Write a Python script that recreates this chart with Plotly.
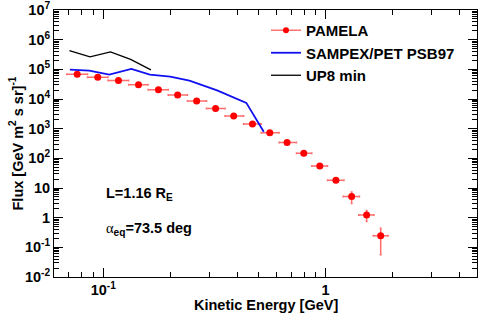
import numpy as np
import plotly.graph_objects as go

# PAMELA data
pam_E = [0.0763, 0.0944, 0.117, 0.144, 0.177, 0.216, 0.263, 0.320, 0.386, 0.469,
         0.561, 0.671, 0.798, 0.942, 1.113, 1.31, 1.53, 1.77]
pam_F = [6.8e4, 5.4e4, 4.2e4, 3.0e4, 2.06e4, 1.36e4, 8.5e3, 4.75e3, 2.68e3, 1.43e3,
         726, 342, 148, 54.7, 18.3, 5.2, 1.24, 0.246]
pam_Elo = [0.0685, 0.0849, 0.105, 0.130, 0.159, 0.196, 0.239, 0.291, 0.353, 0.428,
           0.513, 0.618, 0.740, 0.867, 1.02, 1.20, 1.41, 1.64]
pam_Ehi = [0.0849, 0.105, 0.130, 0.159, 0.196, 0.239, 0.291, 0.353, 0.428, 0.513,
           0.618, 0.740, 0.867, 1.02, 1.21, 1.42, 1.65, 1.91]
pam_Ferr = [2e3, 1.6e3, 1.2e3, 0.9e3, 0.6e3, 0.4e3, 0.25e3, 0.14e3, 80, 45,
            22, 11, 5, 2.2, 1.5, 2.2, 0.5, 0.19]

# SAMPEX/PET PSB97
sam_E = [0.0707, 0.0865, 0.1064, 0.1337, 0.162, 0.200, 0.244, 0.325, 0.440, 0.527]
sam_F = [9.84e4, 9.1e4, 6.65e4, 1.04e5, 6.65e4, 5.69e4, 4.16e4, 1.95e4, 7.4e3, 785]

# UP8 min
up8_E = [0.0704, 0.0871, 0.1077, 0.1327, 0.1637]
up8_F = [4.26e5, 2.62e5, 3.87e5, 2.15e5, 9.6e4]

y_tickvals = [1e7, 1e6, 1e5, 1e4, 1e3, 1e2, 10, 1, 0.1, 0.01]
y_ticktext = ["10<sup>7</sup>", "10<sup>6</sup>", "10<sup>5</sup>", "10<sup>4</sup>",
              "10<sup>3</sup>", "10<sup>2</sup>", "10", "1", "10<sup>-1</sup>", "10<sup>-2</sup>"]
x_tickvals = [0.1, 1]
x_ticktext = ["10<sup>-1</sup>", "1"]

FONT = "Liberation Sans"
FS = 14.5

err_plus_x = [h - e for h, e in zip(pam_Ehi, pam_E)]
err_minus_x = [e - l for e, l in zip(pam_E, pam_Elo)]

fig = go.Figure()
errcol = "rgba(255,30,30,0.65)"
fig.add_trace(go.Scatter(
    x=pam_E, y=pam_F, mode="markers", showlegend=False,
    marker=dict(color="#ff0000", size=7),
    error_x=dict(type="data", symmetric=False, array=err_plus_x, arrayminus=err_minus_x,
                 color=errcol, thickness=1.5, width=1),
    error_y=dict(type="data", array=pam_Ferr, color=errcol, thickness=1.5, width=1),
))
# legend entry for PAMELA (line + marker)
fig.add_trace(go.Scatter(x=[None], y=[None], mode="lines+markers", name="PAMELA",
                         line=dict(color="rgba(255,80,80,0.8)", width=1.5),
                         marker=dict(color="#ff0000", size=6)))
fig.add_trace(go.Scatter(x=sam_E, y=sam_F, mode="lines", name="SAMPEX/PET PSB97",
                         line=dict(color="#1010f0", width=1.8)))
fig.add_trace(go.Scatter(x=up8_E, y=up8_F, mode="lines", name="UP8 min",
                         line=dict(color="black", width=1.3)))

def minor_vals(lo, hi):
    v = []
    for e in range(lo, hi):
        for d in range(2, 10):
            v.append(d * 10.0 ** e)
    return v

axcommon = dict(showline=True, linecolor="black", linewidth=1, mirror="allticks",
                ticks="inside", tickcolor="black", showgrid=False, zeroline=False,
                automargin=False, ticklabeloverflow="allow",
                tickfont=dict(family=FONT, size=FS, color="black", weight="bold"))

fig.update_xaxes(type="log", range=[np.log10(0.06), np.log10(4.8)],
                 tickmode="array", tickvals=x_tickvals, ticktext=x_ticktext,
                 ticklen=9, ticklabelstandoff=0,
                 minor=dict(ticks="inside", ticklen=5, tickcolor="black", showgrid=False,
                            tickmode="array", tickvals=minor_vals(-2, 1)),
                 **axcommon)
fig.update_yaxes(type="log", range=[-2, 7],
                 tickmode="array", tickvals=y_tickvals, ticktext=y_ticktext,
                 ticklen=9,
                 minor=dict(ticks="inside", ticklen=5, tickcolor="black", showgrid=False,
                            tickmode="array", tickvals=minor_vals(-2, 7)),
                 **axcommon)

fig.add_annotation(text="<b>Kinetic Energy [GeV]</b>", xref="paper", yref="paper",
                   x=0.5, y=(277 - 305) / 267, showarrow=False, yanchor="middle",
                   font=dict(family=FONT, size=FS, color="black"))
fig.add_annotation(text="<b>Flux [GeV m<sup>2</sup> s sr]<sup>-1</sup></b>", xref="paper", yref="paper",
                   x=(16 - 54) / 423, y=0.5, showarrow=False, textangle=-90, xanchor="center",
                   font=dict(family=FONT, size=FS, color="black"))
fig.add_annotation(text="<b>L=1.16 R<sub>E</sub></b>", xref="paper", yref="paper",
                   x=(104 - 54) / 423, y=(277 - 194) / 267, xanchor="left", yanchor="middle",
                   showarrow=False, font=dict(family=FONT, size=FS, color="black"))
fig.add_annotation(text="<span style='font-family:Liberation Serif;font-weight:normal'>α</span><b><sub>eq</sub>=73.5 deg</b>",
                   xref="paper", yref="paper",
                   x=(104 - 54) / 423, y=(277 - 229) / 267, xanchor="left", yanchor="middle",
                   showarrow=False, font=dict(family=FONT, size=FS, color="black"))

fig.update_layout(
    width=485, height=316,
    margin=dict(l=54, r=8, t=10, b=39, autoexpand=False),
    paper_bgcolor="white", plot_bgcolor="white",
    font=dict(family=FONT, size=FS, color="black"),
    legend=dict(x=(266 - 54) / 423, y=(277 - 14) / 267, xanchor="left", yanchor="top",
                bgcolor="rgba(0,0,0,0)", font=dict(family=FONT, size=15, color="black", weight="bold"),
                itemwidth=30, tracegroupgap=0),
)

fig.write_html("out.html", config={"displayModeBar": False},
               post_script="document.body.style.margin='0';")
